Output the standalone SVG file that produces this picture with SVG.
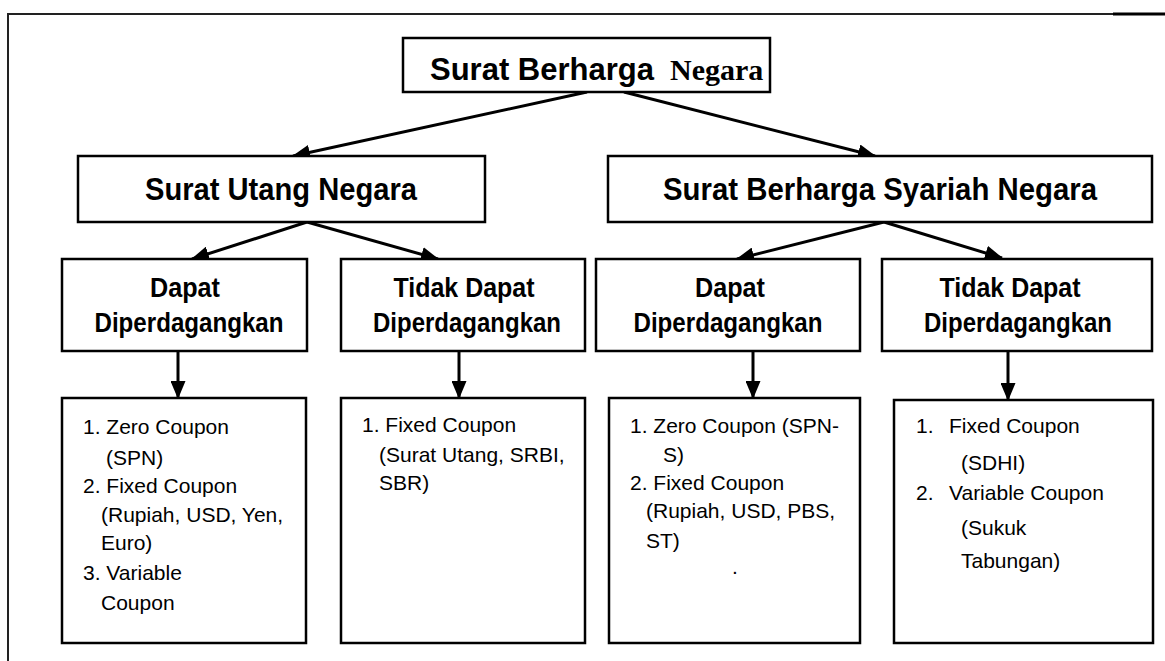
<svg xmlns="http://www.w3.org/2000/svg" width="1165" height="661" viewBox="0 0 1165 661">
<style>
.box{fill:#fff;stroke:#000;stroke-width:2.5}
.h1{font-family:"Liberation Sans",Arial,sans-serif;font-weight:bold;font-size:31px;fill:#000}
.h1s{font-family:"Liberation Serif","Times New Roman",serif;font-weight:bold;font-size:30px;fill:#000}
.h2{font-family:"Liberation Sans",Arial,sans-serif;font-weight:bold;font-size:32px;fill:#000}
.h3{font-family:"Liberation Sans",Arial,sans-serif;font-weight:bold;font-size:28px;fill:#000;text-anchor:middle}
.t{font-family:"Liberation Sans",Arial,sans-serif;font-size:21px;fill:#000}
.c{fill:none;stroke:#000;stroke-width:3}
.frame{stroke:#222;stroke-width:2;fill:none}
</style>
<defs>
<marker id="ah" markerUnits="userSpaceOnUse" markerWidth="18" markerHeight="15" viewBox="0 0 18 15" refX="17" refY="7.5" orient="auto">
<path d="M0,0 L18,7.5 L0,15 z" fill="#000"/>
</marker>
</defs>
<rect width="1165" height="661" fill="#fff"/>
<g id="frame">
<line class="frame" x1="7" y1="14" x2="1113" y2="14"/>
<line x1="1113" y1="14" x2="1165" y2="14" stroke="#000" stroke-width="3"/>
<line class="frame" x1="8" y1="14" x2="8" y2="661"/>
</g>
<g id="connectors">
<line class="c" x1="587" y1="92" x2="293" y2="156" marker-end="url(#ah)"/>
<line class="c" x1="624" y1="92" x2="875" y2="156" marker-end="url(#ah)"/>
<line class="c" x1="307" y1="222" x2="192" y2="259" marker-end="url(#ah)"/>
<line class="c" x1="307" y1="222" x2="438" y2="259" marker-end="url(#ah)"/>
<line class="c" x1="884" y1="222" x2="737" y2="259" marker-end="url(#ah)"/>
<line class="c" x1="884" y1="222" x2="1002" y2="258" marker-end="url(#ah)"/>
<line class="c" x1="178" y1="351" x2="178" y2="398" marker-end="url(#ah)"/>
<line class="c" x1="459" y1="351" x2="459" y2="398" marker-end="url(#ah)"/>
<line class="c" x1="753" y1="351" x2="753" y2="398" marker-end="url(#ah)"/>
<line class="c" x1="1008" y1="351" x2="1008" y2="400" marker-end="url(#ah)"/>
</g>
<g id="sbn">
<rect class="box" x="403" y="38" width="367" height="54"/>
<text class="h1" x="430" y="80">Surat Berharga</text>
<text class="h1s" x="670" y="80">Negara</text>
</g>
<g id="sun">
<rect class="box" x="78" y="156" width="407" height="66"/>
<text class="h2" x="145" y="200" textLength="272" lengthAdjust="spacingAndGlyphs">Surat Utang Negara</text>
</g>
<g id="sbsn">
<rect class="box" x="608" y="156" width="544" height="66"/>
<text class="h2" x="663" y="200" textLength="434" lengthAdjust="spacingAndGlyphs">Surat Berharga Syariah Negara</text>
</g>
<g id="sun-dapat">
<rect class="box" x="62" y="259" width="245" height="92"/>
<text class="h3" x="185" y="297" textLength="70" lengthAdjust="spacingAndGlyphs">Dapat</text>
<text class="h3" x="189" y="332" textLength="189" lengthAdjust="spacingAndGlyphs">Diperdagangkan</text>
</g>
<g id="sun-tidak">
<rect class="box" x="341" y="259" width="244" height="92"/>
<text class="h3" x="464" y="297" textLength="141" lengthAdjust="spacingAndGlyphs">Tidak Dapat</text>
<text class="h3" x="467" y="332" textLength="188" lengthAdjust="spacingAndGlyphs">Diperdagangkan</text>
</g>
<g id="sbsn-dapat">
<rect class="box" x="596" y="259" width="264" height="92"/>
<text class="h3" x="730" y="297" textLength="70" lengthAdjust="spacingAndGlyphs">Dapat</text>
<text class="h3" x="728" y="332" textLength="189" lengthAdjust="spacingAndGlyphs">Diperdagangkan</text>
</g>
<g id="sbsn-tidak">
<rect class="box" x="882" y="259" width="270" height="92"/>
<text class="h3" x="1010" y="297" textLength="141" lengthAdjust="spacingAndGlyphs">Tidak Dapat</text>
<text class="h3" x="1018" y="332" textLength="188" lengthAdjust="spacingAndGlyphs">Diperdagangkan</text>
</g>
<g id="sun-dapat-list">
<rect class="box" x="62" y="398" width="244" height="245"/>
<text class="t" x="83" y="434">1. Zero Coupon</text>
<text class="t" x="106" y="465">(SPN)</text>
<text class="t" x="83" y="493">2. Fixed Coupon</text>
<text class="t" x="101" y="522">(Rupiah, USD, Yen,</text>
<text class="t" x="101" y="550">Euro)</text>
<text class="t" x="83" y="580">3. Variable</text>
<text class="t" x="101" y="610">Coupon</text>
</g>
<g id="sun-tidak-list">
<rect class="box" x="341" y="398" width="244" height="245"/>
<text class="t" x="362" y="432">1. Fixed Coupon</text>
<text class="t" x="379" y="462">(Surat Utang, SRBI,</text>
<text class="t" x="379" y="490">SBR)</text>
</g>
<g id="sbsn-dapat-list">
<rect class="box" x="609" y="398" width="251" height="245"/>
<text class="t" x="630" y="433">1. Zero Coupon (SPN-</text>
<text class="t" x="663" y="462">S)</text>
<text class="t" x="630" y="490">2. Fixed Coupon</text>
<text class="t" x="646" y="518">(Rupiah, USD, PBS,</text>
<text class="t" x="646" y="548">ST)</text>
<text class="t" x="732" y="574">.</text>
</g>
<g id="sbsn-tidak-list">
<rect class="box" x="894" y="400" width="259" height="243"/>
<text class="t" x="916" y="433">1.</text>
<text class="t" x="949" y="433">Fixed Coupon</text>
<text class="t" x="961" y="470">(SDHI)</text>
<text class="t" x="916" y="500">2.</text>
<text class="t" x="949" y="500">Variable Coupon</text>
<text class="t" x="961" y="535">(Sukuk</text>
<text class="t" x="961" y="568">Tabungan)</text>
</g>
</svg>
